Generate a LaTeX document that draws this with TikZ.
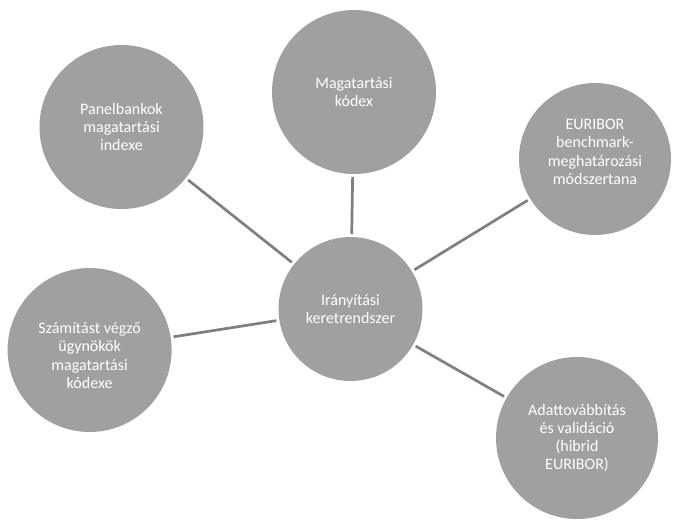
\documentclass[tikz,border=0pt]{standalone}
\usepackage{fontspec}
\setmainfont{Carlito}
\definecolor{circfill}{HTML}{A0A0A0}
\definecolor{linecol}{HTML}{7F7F7F}
\tikzset{
  bubble/.style={circle, fill=circfill, draw=none, inner sep=0pt, outer sep=0pt},
  btext/.style={text=white, align=center, inner sep=0pt, font=\fontsize{16}{18.3}\selectfont},
  conn/.style={draw=linecol, line width=2.7pt, shorten >=3pt, shorten <=3pt}
}
\begin{document}
\begin{tikzpicture}[x=1pt,y=-1pt]
\useasboundingbox (0,0) rectangle (674,520);
\node[bubble, minimum size=144pt] (c)  at (350.5,309) {};
\node[bubble, minimum size=164pt] (t)  at (354,92) {};
\node[bubble, minimum size=164pt] (tl) at (121.5,127) {};
\node[bubble, minimum size=152pt] (r)  at (595,159) {};
\node[bubble, minimum size=164pt] (l)  at (89.6,350) {};
\node[bubble, minimum size=162pt] (br) at (577,438) {};
\draw[conn] (c) -- (t);
\draw[conn] (c) -- (tl);
\draw[conn] (c) -- (r);
\draw[conn] (c) -- (l);
\draw[conn] (c) -- (br);
\node[btext] (ct)  at (c.center) {Irányítási\\keretrendszer};
\node[btext] (tt)  at (t.center) {Magatartási\\kódex};
\node[btext] (tlt) at (tl.center) {Panelbankok\\magatartási\\indexe};
\node[btext] (rt)  at ([yshift=7pt]r.center) {EURIBOR\\benchmark-\\meghatározási\\módszertana};
\node[btext] (lt)  at ([yshift=-5.5pt]l.center) {Számítást végző\\ügynökök\\magatartási\\kódexe};
\node[btext] (brt) at (br.center) {Adattovábbítás\\és validáció\\(hibrid\\EURIBOR)};
\end{tikzpicture}
\end{document}
